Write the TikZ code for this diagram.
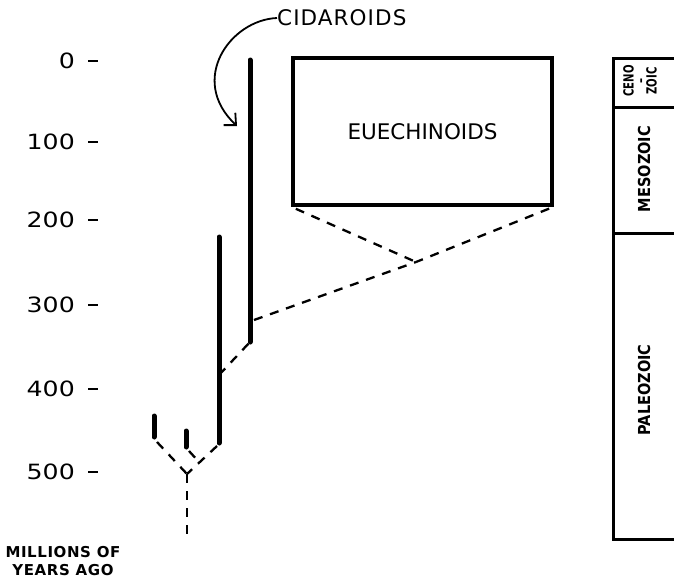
\documentclass[tikz,border=0pt]{standalone}
\usepackage{fontspec}
\setmainfont{DejaVu Sans}
\usetikzlibrary{arrows.meta}

\tikzset{
  lineage/.style={line width=5pt, line cap=round},
  link/.style={line width=2.3pt, dash pattern=on 9pt off 8pt},
  scalenum/.style={anchor=east, inner sep=0pt, font=\fontsize{21}{25}\selectfont\addfontfeature{FakeStretch=1.2}},
  tickmark/.style={line width=2.6pt},
  era/.style={rotate=90, inner sep=0pt, align=center, font=\bfseries\fontsize{16.5}{11}\selectfont\addfontfeature{FakeStretch=0.88}},
  smallera/.style={rotate=90, inner sep=0pt, align=center, font=\bfseries\fontsize{14}{11.5}\selectfont\addfontfeature{FakeStretch=0.72}},
  frame/.style={line width=3pt},
  groupbox/.style={draw, line width=3.5pt, inner sep=0pt, font=\fontsize{21.5}{25}\selectfont},
  caption/.style={inner sep=0pt, align=center, font=\bfseries\fontsize{15}{18}\selectfont\addfontfeature{LetterSpace=4}},
}

\begin{document}
\begin{tikzpicture}[x=1pt, y=-1pt]
\useasboundingbox (0,0) rectangle (674,584);

% time scale
\foreach \val/\yy in {0/61, 100/142, 200/220, 300/305, 400/389, 500/472} {
  \node[scalenum] (t\val) at (75,\yy) {\val};
  \draw[tickmark] (88,\yy) -- (98,\yy);
}
\node[caption] (units) at (63,561) {MILLIONS OF\\YEARS AGO};

% lineages
\coordinate (cidTop) at (250,60);
\coordinate (cidBot) at (250,342);
\coordinate (midTop) at (219,237);
\coordinate (midBot) at (219,443);
\coordinate (aTop) at (154,416);
\coordinate (aBot) at (154,437);
\coordinate (bTop) at (186,431);
\coordinate (bBot) at (186,447);
\draw[lineage] (cidTop) -- (cidBot);
\draw[lineage] (midTop) -- (midBot);
\draw[lineage] (aTop) -- (aBot);
\draw[lineage] (bTop) -- (bBot);

% hypothetical links
\coordinate (fork) at (187,474);
\coordinate (root) at (187,538);
\coordinate (bJoin) at (199,462);
\coordinate (midOut) at (219,375);
\coordinate (cidOut) at (250,321);
\coordinate (euJoin) at (416,262);
\draw[link] (aBot) ++(3,5) -- (fork);
\draw[link] (midBot) ++(-2,3) -- (fork);
\draw[link] (bBot) ++(3,4) -- (bJoin);
\draw[link] (fork) -- (root);
\draw[link] (midOut) -- (cidBot);
\draw[link] (cidOut) ++(4,-1) -- (euJoin);

% euechinoid group
\node[groupbox, minimum width=259pt, minimum height=147pt] (euech) at (422.5,131.5) {EUECHINOIDS};
\draw[link, shorten <=5pt] (euech.south west) -- (euJoin);
\draw[link, shorten <=5pt] (euech.south east) -- (euJoin);

% cidaroid label
\node[anchor=west, inner sep=0pt, font=\fontsize{21.5}{25}\selectfont\addfontfeature{LetterSpace=5}] (cid) at (277,18) {CIDAROIDS};
\draw[line width=1.8pt, -{Straight Barb[length=9pt,width=17pt,line width=1.8pt]}]
  (cid.west) .. controls (230,20) and (188,80) .. (237,126);

% geological eras
\draw[frame] (674,58) -- (613,58) -- (613,539) -- (674,539);
\draw[frame] (613,107) -- (674,107);
\draw[frame] (613,233) -- (674,233);
\node[smallera] (ceno) at (640,81) {CENO\\–\\ZOIC};
\node[era] (meso) at (644,169) {MESOZOIC};
\node[era] (paleo) at (644,390) {PALEOZOIC};
\end{tikzpicture}
\end{document}
